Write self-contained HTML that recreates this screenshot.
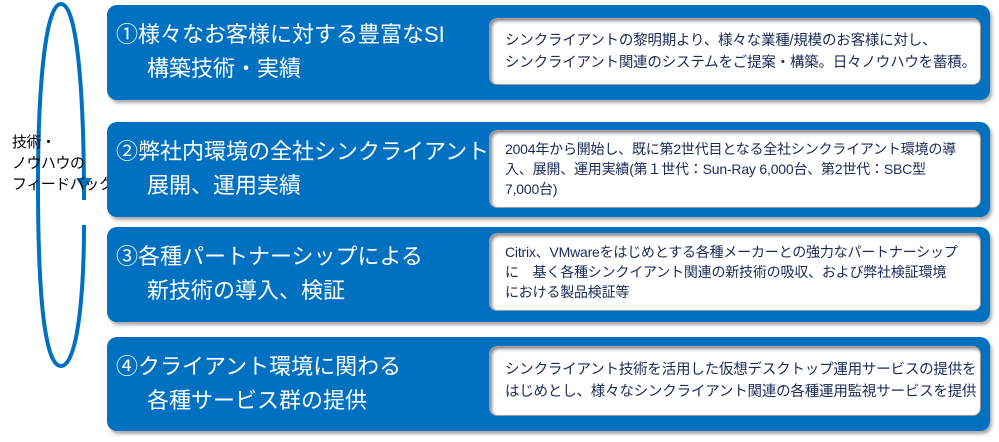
<!DOCTYPE html>
<html><head><meta charset="utf-8"><style>
body{margin:0;width:999px;height:442px;background:#fff;position:relative;overflow:hidden;font-family:"Liberation Sans","Noto Sans CJK JP",sans-serif}
.b{position:absolute;left:107px;width:883px;background:#0070c0;border-radius:10px;box-shadow:2px 3px 3px #aaa}
.t{position:absolute;left:9px;color:#fff;font-size:22px;line-height:34px;white-space:nowrap}
.t span{display:block;padding-left:31px}
.i{position:absolute;left:382px;width:492px;background:#fff;border-radius:8px;border:1px solid #999;box-shadow:inset 2px 2px 3px #888;box-sizing:border-box;color:#1a2a5a;font-size:14.5px;line-height:22px;padding:0 0 0 15px;white-space:nowrap;display:flex;flex-direction:column;justify-content:center;letter-spacing:-0.2px}
.lab{position:absolute;left:12px;top:132px;font-size:15px;line-height:21px;color:#000;letter-spacing:-0.5px}
</style></head><body>
<svg width="120" height="442" style="position:absolute;left:0;top:0">
<path d="M84 200 C84 100 78 4 61 4 C44 4 38 100 38 184 C38 290 44 366 61 366 C78 366 84 290 84 225" fill="none" stroke="#0070c0" stroke-width="4"/>
<polygon points="76,178 92,178 84,190" fill="#0070c0"/>
</svg>
<div class="lab">技術・<br>ノウハウの<br>フィードバック</div>

<div class="b" style="top:5px;height:95px">
<div class="t" style="top:13px">①様々なお客様に対する豊富なSI<span>構築技術・実績</span></div>
<div class="i" style="top:13px;height:67px">シンクライアントの黎明期より、様々な業種/規模のお客様に対し、<br>シンクライアント関連のシステムをご提案・構築。日々ノウハウを蓄積。</div>
</div>
<div class="b" style="top:122px;height:95px">
<div class="t" style="top:13px">②弊社内環境の全社シンクライアント<span>展開、運用実績</span></div>
<div class="i" style="top:8px;height:78px;font-size:14px;line-height:20px">2004年から開始し、既に第2世代目となる全社シンクライアント環境の導<br>入、展開、運用実績(第１世代：Sun-Ray 6,000台、第2世代：SBC型<br>7,000台)</div>
</div>
<div class="b" style="top:227px;height:95px">
<div class="t" style="top:13px">③各種パートナーシップによる<span>新技術の導入、検証</span></div>
<div class="i" style="top:6px;height:78px;font-size:14px;line-height:20px">Citrix、VMwareをはじめとする各種メーカーとの強力なパートナーシップ<br>に　基く各種シンクイアント関連の新技術の吸収、および弊社検証環境<br>における製品検証等</div>
</div>
<div class="b" style="top:337px;height:94px">
<div class="t" style="top:13px">④クライアント環境に関わる<span>各種サービス群の提供</span></div>
<div class="i" style="top:9px;height:70px">シンクライアント技術を活用した仮想デスクトップ運用サービスの提供を<br>はじめとし、様々なシンクライアント関連の各種運用監視サービスを提供</div>
</div>
</body></html>
